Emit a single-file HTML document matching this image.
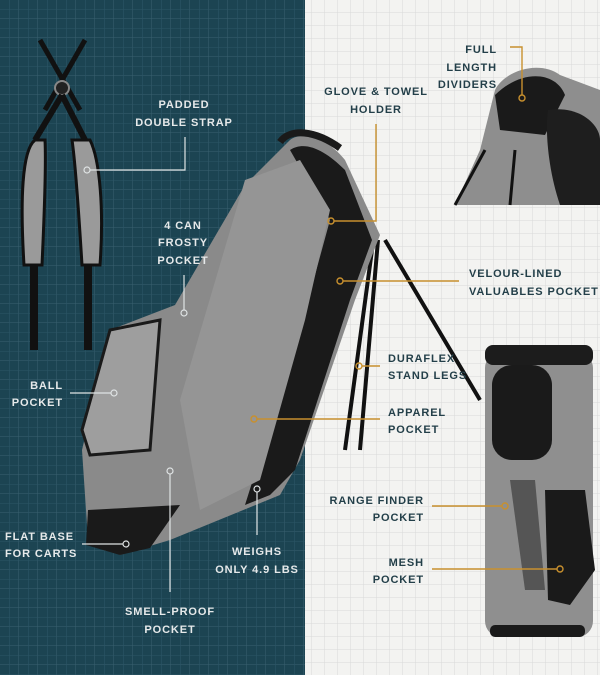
<!DOCTYPE html>
<html><head><meta charset="utf-8"><style>
html,body{margin:0;padding:0;}
body{width:600px;height:675px;overflow:hidden;}
svg text{font-family:"Liberation Sans",sans-serif;font-weight:bold;font-size:11px;letter-spacing:0.9px;}
.w{fill:#e6e9ea;}
.d{fill:#233f49;}
</style></head><body>
<svg width="600" height="675" viewBox="0 0 600 675" xmlns="http://www.w3.org/2000/svg">
<defs>
<pattern id="gt" width="19" height="19" patternUnits="userSpaceOnUse">
<rect width="19" height="19" fill="#1c4452"/>
<path d="M19 0V19M0 19H19" stroke="#3a6170" stroke-width="1"/>
<path d="M9.5 0V19M0 9.5H19" stroke="#2b5565" stroke-width="0.6"/>
</pattern>
<pattern id="gl" width="13" height="13" patternUnits="userSpaceOnUse">
<rect width="13" height="13" fill="#f3f3f1"/>
<path d="M13 0V13M0 13H13" stroke="#d8dad9" stroke-width="1"/>
</pattern>
</defs>
<rect x="0" y="0" width="305" height="675" fill="url(#gt)"/>
<rect x="305" y="0" width="295" height="675" fill="url(#gl)"/>

<!-- strap -->
<path d="M40 40 L80 110 M85 40 L45 110" stroke="#111" stroke-width="5"/>
<circle cx="62" cy="88" r="7" fill="#222" stroke="#888" stroke-width="2"/>
<path d="M62 95 L35 140 M62 95 L85 140" stroke="#111" stroke-width="6"/>
<path d="M35 140 C22 150 20 200 24 265 L42 265 C45 200 46 160 45 140 Z" fill="#9a9a9a" stroke="#111" stroke-width="3"/>
<path d="M72 140 C75 160 78 200 82 265 L100 265 C104 210 100 160 90 140 Z" fill="#9a9a9a" stroke="#111" stroke-width="3"/>
<rect x="30" y="265" width="8" height="85" fill="#111"/>
<rect x="84" y="265" width="8" height="85" fill="#111"/>

<!-- main bag legs -->
<path d="M378 240 L360 450 M385 240 L480 400 M372 250 L345 450" stroke="#111" stroke-width="4"/>
<!-- main bag -->
<path d="M290 140 C300 132 325 135 345 160 L380 235 L355 300 L300 460 L280 495 L170 540 L120 555 L88 540 L82 450 L110 330 L175 305 L245 185 Z" fill="#8a8a8a"/>
<path d="M290 150 C305 140 325 150 345 170 L372 240 L350 300 L295 470 L270 495 L245 505 L300 330 L330 220 Z" fill="#1a1a1a"/>
<path d="M245 180 L300 160 L330 210 L305 320 L260 480 L200 510 L180 400 Z" fill="#959595"/>
<path d="M110 330 L160 320 L150 450 L90 455 L82 430 Z" fill="#9e9e9e" stroke="#1a1a1a" stroke-width="3"/>
<path d="M88 510 L180 505 L150 548 L120 555 L86 545 Z" fill="#1a1a1a"/>
<path d="M280 142 C290 128 315 130 340 148" stroke="#1a1a1a" stroke-width="7" fill="none"/>

<!-- top right bag -->
<path d="M455 205 L480 150 L495 90 C505 70 540 60 560 75 L600 90 L600 205 Z" fill="#8e8e8e"/>
<path d="M495 95 C520 70 555 70 565 95 L545 135 L500 130 Z" fill="#1a1a1a"/>
<path d="M548 110 C580 105 600 125 600 140 L600 205 L560 205 C548 170 545 130 548 110 Z" fill="#1e1e1e"/>
<path d="M455 205 L485 150 M510 205 L515 150" stroke="#111" stroke-width="3"/>

<!-- right bag -->
<rect x="485" y="352" width="108" height="285" rx="16" fill="#8f8f8f"/>
<rect x="485" y="345" width="108" height="20" rx="8" fill="#1c1c1c"/>
<rect x="492" y="365" width="60" height="95" rx="20" fill="#1a1a1a"/>
<path d="M545 490 L585 490 L595 570 L570 605 L548 600 Z" fill="#1a1a1a"/>
<path d="M510 480 L535 480 L545 590 L525 590 Z" fill="#555"/>
<rect x="490" y="625" width="95" height="12" rx="5" fill="#1a1a1a"/>

<!-- left-side connectors (white) -->
<g stroke="#dfe3e4" stroke-width="1.2" fill="none">
<path d="M185 137 V170 H90"/><circle cx="87" cy="170" r="3" fill="none"/>
<path d="M184 275 V310"/><circle cx="184" cy="313" r="3"/>
<path d="M70 393 H111"/><circle cx="114" cy="393" r="3"/>
<path d="M82 544 H123"/><circle cx="126" cy="544" r="3"/>
<path d="M257 492 V535"/><circle cx="257" cy="489" r="3"/>
<path d="M170 474 V592"/><circle cx="170" cy="471" r="3"/>
</g>
<!-- right-side connectors (gold) -->
<g stroke="#c8902e" stroke-width="1.4" fill="none">
<path d="M376 124 V221 H334"/><circle cx="331" cy="221" r="3"/>
<path d="M510 47 H522 V95"/><circle cx="522" cy="98" r="3"/>
<path d="M459 281 H343"/><circle cx="340" cy="281" r="3"/>
<path d="M380 366 H362"/><circle cx="359" cy="366" r="3"/>
<path d="M380 419 H257"/><circle cx="254" cy="419" r="3"/>
<path d="M432 506 H502"/><circle cx="505" cy="506" r="3"/>
<path d="M432 569 H557"/><circle cx="560" cy="569" r="3"/>
</g>

<!-- labels left -->
<text class="w" x="184" y="108" text-anchor="middle">PADDED</text>
<text class="w" x="184" y="126" text-anchor="middle">DOUBLE STRAP</text>
<text class="w" x="183" y="229" text-anchor="middle">4 CAN</text>
<text class="w" x="183" y="246" text-anchor="middle">FROSTY</text>
<text class="w" x="183" y="264" text-anchor="middle">POCKET</text>
<text class="w" x="63" y="389" text-anchor="end">BALL</text>
<text class="w" x="63" y="406" text-anchor="end">POCKET</text>
<text class="w" x="5" y="540">FLAT BASE</text>
<text class="w" x="5" y="557">FOR CARTS</text>
<text class="w" x="257" y="555" text-anchor="middle">WEIGHS</text>
<text class="w" x="257" y="573" text-anchor="middle">ONLY 4.9 LBS</text>
<text class="w" x="170" y="615" text-anchor="middle">SMELL-PROOF</text>
<text class="w" x="170" y="633" text-anchor="middle">POCKET</text>
<!-- labels right -->
<text class="d" x="376" y="95" text-anchor="middle">GLOVE &amp; TOWEL</text>
<text class="d" x="376" y="113" text-anchor="middle">HOLDER</text>
<text class="d" x="497" y="53" text-anchor="end">FULL</text>
<text class="d" x="497" y="71" text-anchor="end">LENGTH</text>
<text class="d" x="497" y="88" text-anchor="end">DIVIDERS</text>
<text class="d" x="469" y="277">VELOUR-LINED</text>
<text class="d" x="469" y="295">VALUABLES POCKET</text>
<text class="d" x="388" y="362">DURAFLEX</text>
<text class="d" x="388" y="379">STAND LEGS</text>
<text class="d" x="388" y="416">APPAREL</text>
<text class="d" x="388" y="433">POCKET</text>
<text class="d" x="424" y="504" text-anchor="end">RANGE FINDER</text>
<text class="d" x="424" y="521" text-anchor="end">POCKET</text>
<text class="d" x="424" y="566" text-anchor="end">MESH</text>
<text class="d" x="424" y="583" text-anchor="end">POCKET</text>
</svg>
</body></html>
